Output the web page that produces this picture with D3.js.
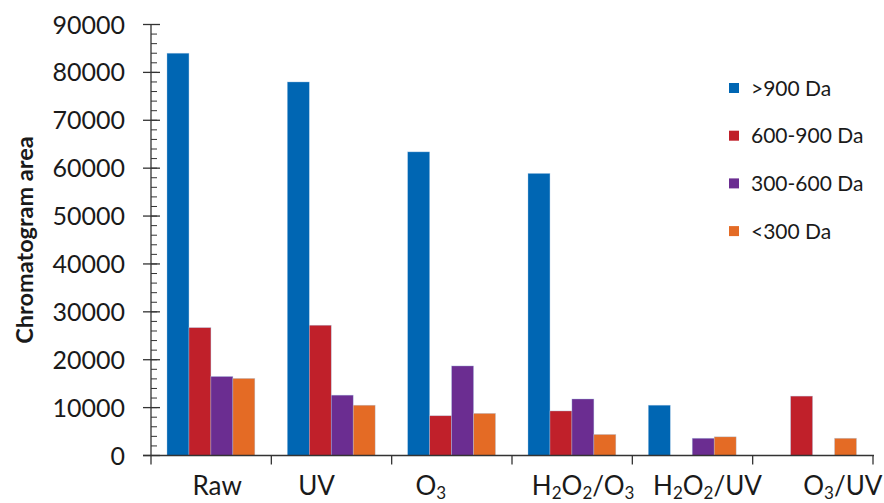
<!DOCTYPE html>
<html><head><meta charset="utf-8">
<script src="https://cdn.jsdelivr.net/npm/d3@7"></script>
<style>body{margin:0;background:#fff}svg{display:block}text{font-family:Lato,"Open Sans",sans-serif;fill:#1a1a1a}</style>
</head><body><svg id="c" width="884" height="503"></svg>
<script>
const categories = ["Raw","UV","O3","H2O2/O3","H2O2/UV","O3/UV"];
const series = [">900 Da","600-900 Da","300-600 Da","<300 Da"];
const s900 = [84000,78000,63400,58900,10500,0];
const s600 = [26700,27200,8300,9300,0,12400];
const s300 = [16500,12600,18700,11800,3600,0];
const s0   = [16100,10500,8800,4400,3900,3600];
const values = [s900,s600,s300,s0];
const yTicks = [0,10000,20000,30000,40000,50000,60000,70000,80000,90000];

const colors = ["#0066b3","#c0202a","#6b2d91","#e46b25"];
const svg = d3.select("#c");
const x0 = 151, x1 = 873, yb = 455.5, yt = 24.5;
const x = d3.scaleBand().domain(categories).range([x0,x1]).padding(0);
const xi = d3.scaleBand().domain(series).range([16, x.bandwidth()-16.5]).padding(0);
const y = d3.scaleLinear().domain([0,90000]).range([yb,yt]);

// bars
series.forEach((s,si)=>{
  svg.append("g").selectAll("rect").data(categories.map((c,ci)=>({c,v:values[si][ci]})).filter(d=>d.v>0))
    .join("rect")
    .attr("x",d=>x(d.c)+xi(s)).attr("width",xi.bandwidth())
    .attr("y",d=>y(d.v)).attr("height",d=>yb-y(d.v))
    .attr("fill",colors[si]).attr("stroke","#a9c9e8").attr("stroke-width",0.6).attr("stroke-opacity",0.6);
});

// y axis
const ya = svg.append("g").attr("transform",`translate(${x0},0)`);
ya.append("line").attr("y1",yt).attr("y2",yb).attr("stroke","#333").attr("stroke-width",1.3);
ya.selectAll("line.mn").data(d3.range(0,90001,2000)).join("line").attr("class","mn")
  .attr("x1",0).attr("x2",6).attr("y1",d=>y(d)).attr("y2",d=>y(d)).attr("stroke","#333").attr("stroke-width",1);
ya.selectAll("line.mj").data(yTicks).join("line").attr("class","mj")
  .attr("x1",-8).attr("x2",9).attr("y1",d=>y(d)).attr("y2",d=>y(d)).attr("stroke","#333").attr("stroke-width",1.3);
ya.selectAll("text").data(yTicks).join("text")
  .attr("x",-26).attr("y",d=>y(d)).attr("dy","0.36em").attr("text-anchor","end")
  .attr("font-size",25).text(d=>d);

// x axis
const xa = svg.append("g");
xa.append("line").attr("x1",x0-8).attr("x2",x1+1).attr("y1",yb).attr("y2",yb).attr("stroke","#333").attr("stroke-width",1.3);
xa.selectAll("line.t").data([x0].concat(categories.slice(1).map(c=>x(c))).concat([x1])).join("line").attr("class","t")
  .attr("x1",d=>d).attr("x2",d=>d).attr("y1",yb).attr("y2",yb+9).attr("stroke","#333").attr("stroke-width",1.3);

// category labels with subscripts (layout nudges match reference placement)
const nudge = [6,-15,-21,11,15,30];
categories.forEach((c,i)=>{
  const t = svg.append("text").attr("x",x(c)+x.bandwidth()/2+nudge[i]).attr("y",495)
    .attr("text-anchor","middle").attr("font-size",26);
  let sub = false;
  c.match(/[A-Za-z\/]+|\d/g).forEach(p=>{
    if(/^\d$/.test(p)){ t.append("tspan").attr("font-size",17).attr("dy",4).text(p); sub=true; }
    else { const ts=t.append("tspan").text(p); if(sub){ts.attr("dy",-4); sub=false;} }
  });
});

// y title
svg.append("text").attr("transform",`translate(33,240) rotate(-90)`)
  .attr("text-anchor","middle").attr("font-size",23.5).attr("font-weight","bold").text("Chromatogram area");

// legend
series.forEach((s,i)=>{
  const yy = 88 + i*47.7;
  svg.append("rect").attr("x",729).attr("y",yy-5).attr("width",10).attr("height",10).attr("fill",colors[i]);
  svg.append("text").attr("x",751).attr("y",yy).attr("dy","0.36em").attr("font-size",21).text(s);
});
</script></body></html>
